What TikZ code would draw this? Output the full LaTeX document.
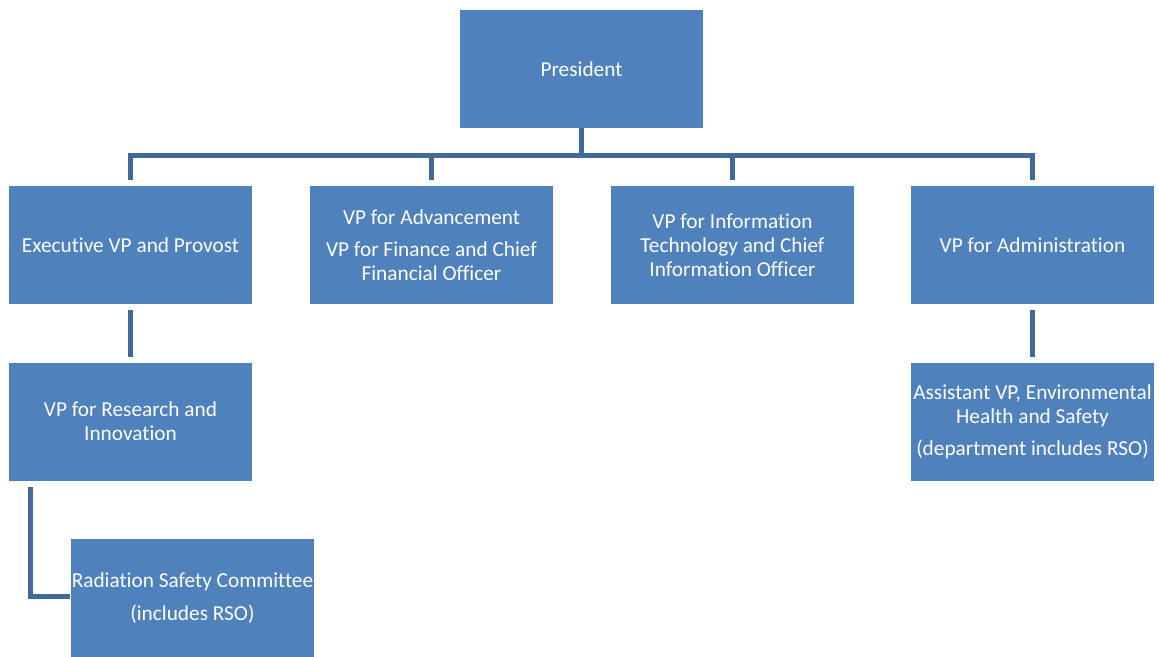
\documentclass[tikz,border=0pt]{standalone}
\usepackage{fontspec}
\setmainfont{Carlito}[Ligatures=NoCommon]
\begin{document}
\begin{tikzpicture}[x=1pt,y=-1pt,
  box/.style={draw=none, fill=boxblue, text=white, minimum width=243pt, minimum height=118pt,
    inner sep=0pt, align=center, font=\fontsize{21.3}{24}\selectfont},
  conn/.style={draw=lineblue, line width=5pt}]
\definecolor{boxblue}{HTML}{4F81BD}
\definecolor{lineblue}{HTML}{41699B}
\useasboundingbox (0,0) rectangle (1159,656);
\node[box] (pres) at (581.5,69) {President};
\node[box] (exec) at (130.5,245) {Executive VP and Provost};
\node[box] (adv) at (431.5,245) {VP for Advancement\\[8pt]VP for Finance and Chief\\Financial Officer};
\node[box] (it) at (732.5,245) {VP for Information\\Technology and Chief\\Information Officer};
\node[box] (adm) at (1032.5,245) {VP for Administration};
\node[box] (res) at (130.5,421.5) {VP for Research and\\Innovation};
\node[box] (asst) at (1032.5,421.5) {Assistant VP, Environmental\\Health and Safety\\[8pt](department includes RSO)};
\node[box] (rad) at (192.5,598) {Radiation Safety Committee\\[9pt](includes RSO)};
\coordinate (bus) at (581.5,155);
\foreach \n in {exec,adv,it,adm}{
  \draw[conn, shorten >=6pt] (pres.south) -- (bus) -| (\n.north);
}
\draw[conn, shorten <=6pt, shorten >=5pt] (exec.south) -- (res.north);
\draw[conn, shorten <=6pt, shorten >=5pt] (adm.south) -- (asst.north);
\draw[conn, shorten <=1pt, shorten >=6pt] ([yshift=2pt]rad.west) -| ([xshift=22pt]res.south west);
\end{tikzpicture}
\end{document}
